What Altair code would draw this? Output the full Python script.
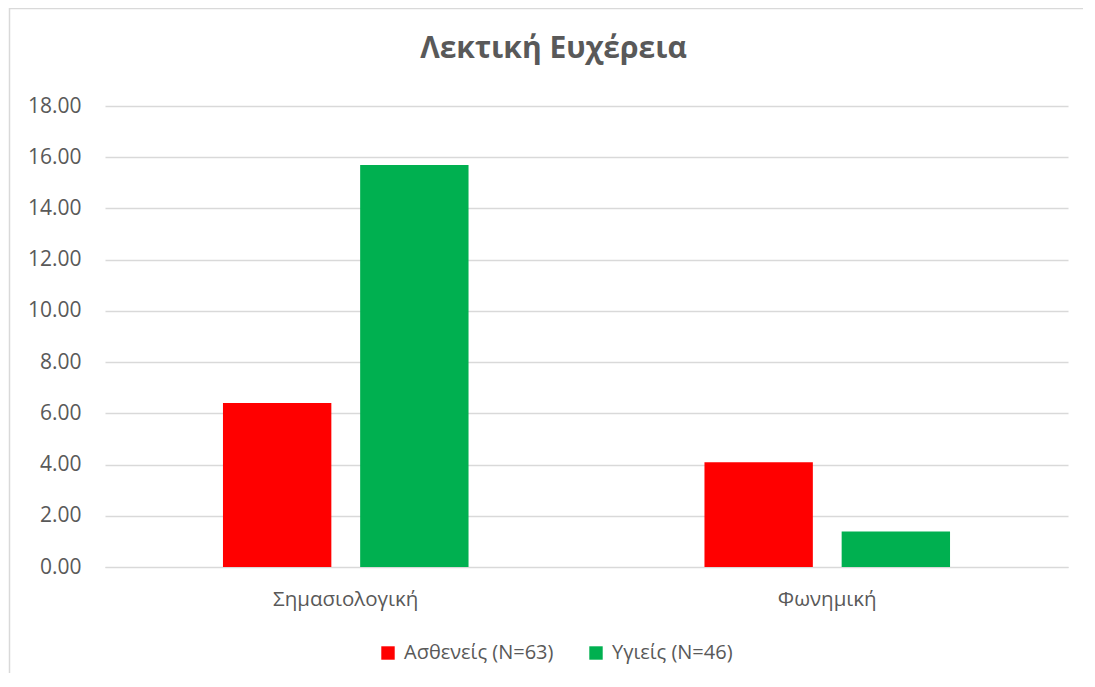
import altair as alt
import pandas as pd

categories = ["Σημασιολογική", "Φωνημική"]
groups = ["Ασθενείς (N=63)", "Υγιείς (N=46)"]
patients = [6.40, 4.09]
healthy = [15.70, 1.39]
colors = ["#FF0000", "#00B050"]

rows = []
for i, c in enumerate(categories):
    rows.append({"cat": c, "group": groups[0], "value": patients[i]})
    rows.append({"cat": c, "group": groups[1], "value": healthy[i]})
df = pd.DataFrame(rows)

FONT = "Open Sans"
W, H = 963, 461

bars = alt.Chart(df).mark_bar().encode(
    x=alt.X("cat:N", sort=categories, title=None,
            scale=alt.Scale(paddingInner=0.49, paddingOuter=0.245),
            axis=alt.Axis(labelAngle=0, labelFontSize=20.5, labelColor="#595959",
                          labelFont=FONT, labelPadding=22, ticks=False,
                          domain=True, domainColor="#D9D9D9", grid=False)),
    xOffset=alt.XOffset("group:N", sort=groups,
                        scale=alt.Scale(paddingInner=0.21, paddingOuter=0)),
    y=alt.Y("value:Q", title=None,
            scale=alt.Scale(domain=[0, 18], nice=False),
            axis=alt.Axis(values=[0, 2, 4, 6, 8, 10, 12, 14, 16, 18], format=".2f",
                          labelFontSize=21, labelColor="#595959", labelFont=FONT,
                          labelPadding=24, ticks=False, domain=False,
                          grid=True, gridColor="#D9D9D9", gridWidth=1.3)),
    color=alt.Color("group:N", sort=groups,
                    scale=alt.Scale(domain=groups, range=colors),
                    legend=alt.Legend(title=None, orient="none", direction="horizontal",
                                      legendX=273, legendY=537,
                                      symbolType="square", symbolSize=180,
                                      symbolStrokeWidth=0,
                                      labelFontSize=20, labelColor="#595959",
                                      labelFont=FONT, labelOffset=6,
                                      columnPadding=32)),
)

frame = alt.Chart(pd.DataFrame({"v": [0]})).mark_rect(
    fill=None, stroke="#D9D9D9", strokeWidth=1.5, clip=False
).encode(
    x=alt.value(-95.5), x2=alt.value(990), y=alt.value(-97.5), y2=alt.value(620)
)

chart = alt.layer(frame, bars).properties(
    width=W, height=H,
    title=alt.TitleParams("Λεκτική Ευχέρεια", fontSize=30, fontWeight="bold",
                          color="#595959", font=FONT, anchor="middle", dx=-33,
                          baseline="alphabetic", offset=-80),
    autosize=alt.AutoSizeParams(type="none"),
    padding={"left": 97, "top": 98, "right": 15, "bottom": 106},
).configure_view(stroke=None)

chart.save("out.html", embed_options={"renderer": "svg", "actions": False})
